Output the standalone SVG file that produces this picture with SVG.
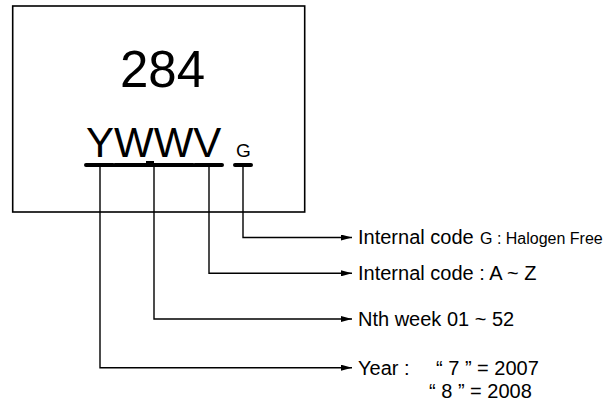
<svg xmlns="http://www.w3.org/2000/svg" width="610" height="403" viewBox="0 0 610 403">
<style>
text{font-family:"Liberation Sans",Arial,sans-serif;fill:#000}
.lbl{font-size:20px}
.sm{font-size:16px}
.bar{stroke:#000;stroke-width:4;stroke-linecap:round;fill:none}
.ln{stroke:#000;stroke-width:1.4;fill:none}
</style>
<defs>
<marker id="ah" viewBox="0 0 11 6" refX="11" refY="3" markerWidth="11" markerHeight="6" markerUnits="userSpaceOnUse" orient="auto">
<path d="M0,0 L11,3 L0,6 Z" fill="#000"/>
</marker>
</defs>
<g id="chip">
<rect x="12.7" y="6" width="292" height="206" fill="#fff" stroke="#000" stroke-width="1.6"/>
<text x="120" y="87" style="font-size:51px">284</text>
<text x="86" y="157" style="font-size:42px">YWWV</text>
<text x="236" y="157" style="font-size:19px">G</text>
<path class="bar" d="M86,165 H113 M115,165 H193 M195,165 H222 M235,165 H251"/>
<path d="M146,163.5 H154" stroke="#000" stroke-width="5"/>
</g>
<g id="connectors">
<path class="ln" d="M243,165 V237.5 H352" marker-end="url(#ah)"/>
<path class="ln" d="M209,165 V273.3 H352" marker-end="url(#ah)"/>
<path class="ln" d="M154,165 V319 H352" marker-end="url(#ah)"/>
<path class="ln" d="M100,165 V367.7 H352" marker-end="url(#ah)"/>
</g>
<g id="label-halogen">
<text class="lbl" x="358" y="244">Internal code</text>
<text class="sm" x="480" y="244">G : Halogen Free</text>
</g>
<g id="label-internal">
<text class="lbl" x="358" y="280">Internal code : A ~ Z</text>
</g>
<g id="label-week">
<text class="lbl" x="358" y="326">Nth week 01 ~ 52</text>
</g>
<g id="label-year">
<text class="lbl" x="358" y="375">Year :</text>
<text class="lbl" x="436" y="375">“ 7 ” = 2007</text>
<text class="lbl" x="429" y="398">“ 8 ” = 2008</text>
</g>
</svg>
